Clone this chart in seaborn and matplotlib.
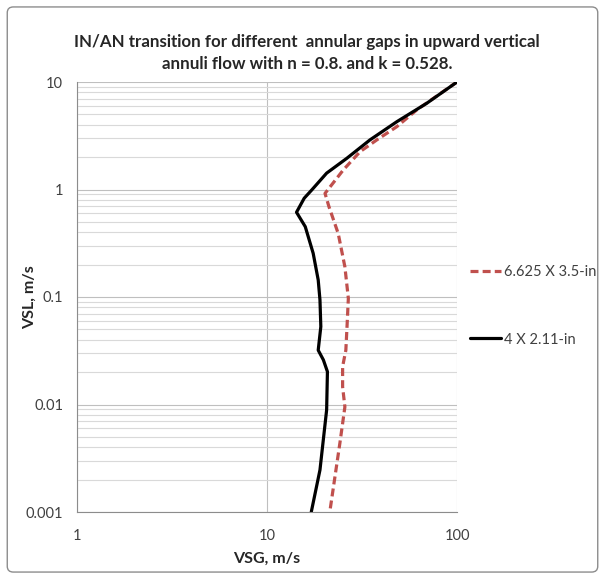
import numpy as np
import pandas as pd
import matplotlib
matplotlib.use("Agg")
import matplotlib.pyplot as plt
from matplotlib.patches import FancyBboxPatch
import seaborn as sns

# Data
vsg_large = [100, 61.4, 48.2, 37.8, 30.9, 25.2, 21.5, 20.2, 21.2, 23.7, 25.7, 26.8, 26.4, 26.0, 25.0, 25.0, 25.7, 24.2, 21.4]
vsl_large = [10, 5.5, 3.84, 2.89, 2.25, 1.52, 1.06, 0.92, 0.69, 0.39, 0.191, 0.097, 0.055, 0.032, 0.0225, 0.0146, 0.0095, 0.0044, 0.001]
vsg_small = [100, 69.3, 48.2, 34.8, 26.3, 20.6, 17.2, 15.7, 14.3, 15.9, 17.5, 18.6, 19.0, 19.2, 18.6, 19.8, 20.8, 20.6, 19.0, 17.1]
vsl_small = [10, 6.34, 4.27, 2.89, 1.95, 1.42, 0.99, 0.83, 0.614, 0.451, 0.255, 0.144, 0.094, 0.053, 0.032, 0.026, 0.0202, 0.0089, 0.00246, 0.001]
series_names = ["6.625 X 3.5-in", "4 X 2.11-in"]
x_ticks = [1, 10, 100]
y_ticks = [0.001, 0.01, 0.1, 1, 10]
x_tick_labels = ["1", "10", "100"]
y_tick_labels = ["0.001", "0.01", "0.1", "1", "10"]

df = pd.concat([
    pd.DataFrame({"VSG": vsg_large, "VSL": vsl_large, "series": series_names[0]}),
    pd.DataFrame({"VSG": vsg_small, "VSL": vsl_small, "series": series_names[1]}),
])

sns.set_style("white")
plt.rcParams["font.family"] = ["Lato", "DejaVu Sans"]

fig = plt.figure(figsize=(6.05, 5.79), dpi=100)
ax = fig.add_axes([77/605, 1-512/579, 380/605, 430/579])

# border of chart area
fig.patches.append(FancyBboxPatch((0.012, 0.012), 0.976, 0.976, boxstyle="round,pad=0,rounding_size=0.01",
                                  transform=fig.transFigure, fill=False, edgecolor="#8c8c8c", linewidth=1.0))

ax.set_xscale("log")
ax.set_yscale("log")
ax.set_xlim(1, 100)
ax.set_ylim(0.001, 10)

ax.grid(True, which="major", axis="both", color="#bfbfbf", linewidth=0.8)
ax.grid(True, which="minor", axis="y", color="#d9d9d9", linewidth=0.8)
ax.set_axisbelow(True)

palette = {series_names[0]: "#C0504D", series_names[1]: "#000000"}
styles = {series_names[0]: "--", series_names[1]: "-"}
for name in series_names:
    sub = df[df["series"] == name]
    sns.lineplot(data=sub, x="VSG", y="VSL", sort=False, estimator=None, ax=ax,
                 color=palette[name], linewidth=2.3, label=name, linestyle=styles[name])
for line in ax.get_lines():
    if line.get_linestyle() == "--":
        line.set_dashes((2.5, 1.3))

ax.set_xticks(x_ticks)
ax.set_xticklabels(x_tick_labels)
ax.set_yticks(y_ticks)
ax.set_yticklabels(y_tick_labels)
ax.xaxis.set_minor_locator(matplotlib.ticker.NullLocator())
ax.yaxis.set_minor_locator(matplotlib.ticker.LogLocator(base=10, subs=np.arange(2, 10)))
ax.yaxis.set_minor_formatter(matplotlib.ticker.NullFormatter())
ax.tick_params(axis="both", which="major", length=5, color="#8c8c8c", labelsize=10.5, labelcolor="#404040", direction="out", width=0.8)
ax.tick_params(axis="y", which="minor", length=0)
ax.tick_params(axis="x", pad=7)
ax.tick_params(axis="y", pad=5)
for s in ["top", "right"]:
    ax.spines[s].set_visible(False)
for s in ["left", "bottom"]:
    ax.spines[s].set_color("#8c8c8c")
    ax.spines[s].set_linewidth(0.8)

ax.set_xlabel("VSG, m/s", fontsize=11.5, fontweight="bold", color="#262626")
ax.set_ylabel("VSL, m/s", fontsize=11.5, fontweight="bold", color="#262626")
ax.xaxis.set_label_coords(0.5, -0.093)
ax.yaxis.set_label_coords(-0.105, 0.5)
fig.text(307/605, 1-42/579, "IN/AN transition for different  annular gaps in upward vertical", ha="center", va="center",
         fontsize=12.2, fontweight="bold", color="#262626")
fig.text(307/605, 1-64/579, "annuli flow with n = 0.8. and k = 0.528.", ha="center", va="center",
         fontsize=12.2, fontweight="bold", color="#262626")

leg = ax.legend(loc="center left", bbox_to_anchor=(1.0, 0.48), frameon=False, fontsize=10.5,
                handlelength=2.1, handletextpad=0.2, labelspacing=3.7)
for t in leg.get_texts():
    t.set_color("#404040")

fig.savefig("out.png", dpi=100)
